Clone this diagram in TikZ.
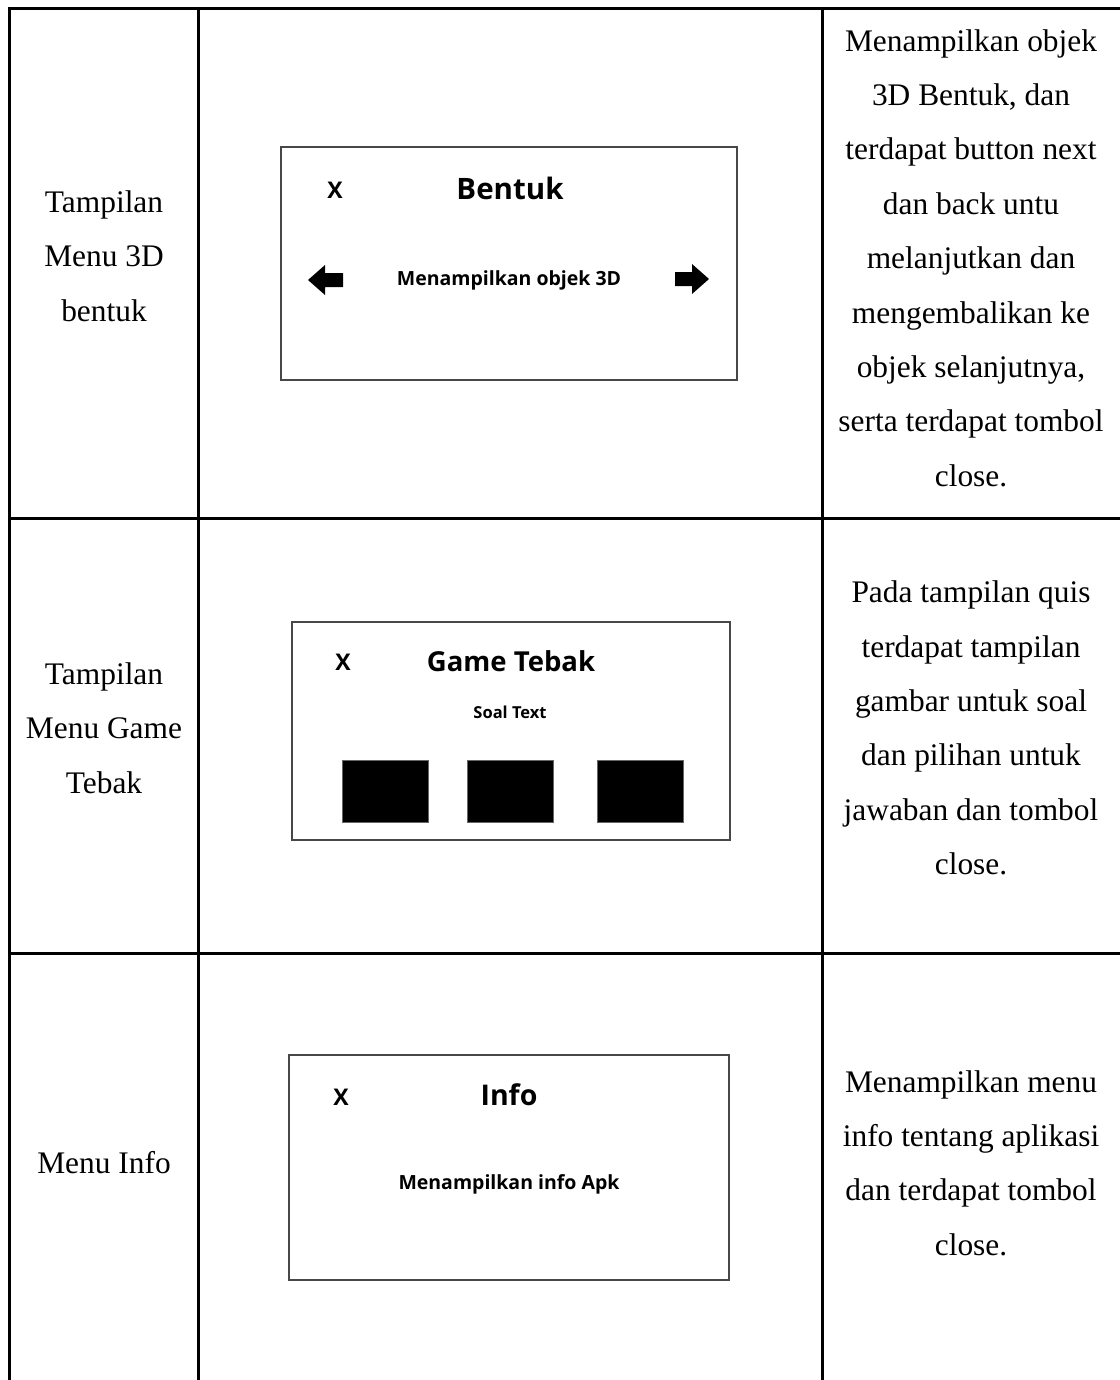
\documentclass[tikz,border=0pt]{standalone}
\usepackage{fontspec}
\setmainfont{Liberation Serif}
\newfontfamily\uifont{Open Sans}
\begin{document}
\begin{tikzpicture}[x=1pt,y=-1pt,
  grid/.style={line width=3pt, black, line cap=rect},
  cell/.style={align=center, inner sep=0pt, font=\fontsize{31.4}{54.4}\selectfont},
  screen/.style={draw=black!72, line width=2pt, fill=white, inner sep=0pt},
  ui/.style={inner sep=0pt, font=\uifont\bfseries\fontsize{#1}{#1}\selectfont},
  tile/.style={fill=black, draw=black!60, line width=0.6pt, inner sep=0pt,
               minimum width=86pt, minimum height=62pt},
  navarrow/.style={fill=black, draw=none}
]
\useasboundingbox (0,0) rectangle (1119,1380);

% table rules
\draw[grid] (9,9) -- (1130,9);
\draw[grid] (9,518) -- (1130,518);
\draw[grid] (9,953) -- (1130,953);
\draw[grid] (9,9) -- (9,1390);
\draw[grid] (198,9) -- (198,1390);
\draw[grid] (822,9) -- (822,1390);
\draw[grid] (1124,9) -- (1124,1390);

% first column
\node[cell] (l1) at (104,256) {Tampilan\\Menu 3D\\bentuk};
\node[cell] (l2) at (104,728) {Tampilan\\Menu Game\\Tebak};
\node[cell] (l3) at (104,1163) {Menu Info};

% third column
\node[cell] (r1) at (971,258) {Menampilkan objek\\3D Bentuk, dan\\terdapat button next\\dan back untu\\melanjutkan dan\\mengembalikan ke\\objek selanjutnya,\\serta terdapat tombol\\close.};
\node[cell] (r2) at (971,728) {Pada tampilan quis\\terdapat tampilan\\gambar untuk soal\\dan pilihan untuk\\jawaban dan tombol\\close.};
\node[cell] (r3) at (971,1163) {Menampilkan menu\\info tentang aplikasi\\dan terdapat tombol\\close.};

% screen 1: Bentuk
\node[screen, minimum width=456pt, minimum height=233pt] (s1) at (509,263.5) {};
\node[ui=23] (s1x) at (335,190) {X};
\node[ui=29.5] (s1t) at (510,188) {Bentuk};
\node[ui=19.5] (s1b) at (509,280) {Menampilkan objek 3D};
\fill[navarrow] (308,280) -- (325,265) -- (325,273) -- (343,273) -- (343,287) -- (325,287) -- (325,295) -- cycle;
\fill[navarrow] (709,279) -- (692,264) -- (692,272) -- (675,272) -- (675,286) -- (692,286) -- (692,294) -- cycle;

% screen 2: Game Tebak
\node[screen, minimum width=438pt, minimum height=218pt] (s2) at (511,731) {};
\node[ui=23] (s2x) at (343,662) {X};
\node[ui=27.5] (s2t) at (511,661) {Game Tebak};
\node[ui=16.5] (s2q) at (510,712) {Soal Text};
\node[tile] (a1) at (385,791) {};
\node[tile] (a2) at (510.5,791) {};
\node[tile] (a3) at (640.5,791) {};

% screen 3: Info
\node[screen, minimum width=440pt, minimum height=225pt] (s3) at (509,1167.5) {};
\node[ui=23] (s3x) at (341,1097) {X};
\node[ui=28.5] (s3t) at (509,1095) {Info};
\node[ui=19.5] (s3b) at (509,1184) {Menampilkan info Apk};
\end{tikzpicture}
\end{document}
